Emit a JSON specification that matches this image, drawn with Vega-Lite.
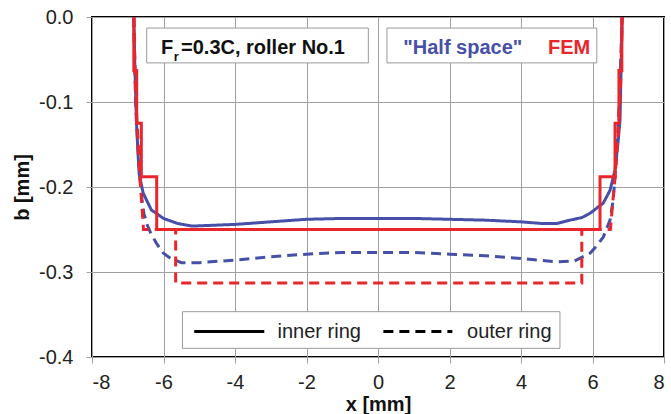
{
  "$schema": "https://vega.github.io/schema/vega-lite/v6.json",
  "width": 572,
  "height": 340,
  "autosize": {"type": "none"},
  "padding": {"left": 92, "top": 17, "right": 7, "bottom": 57},
  "background": "white",
  "config": {
    "view": {"stroke": "black", "strokeWidth": 2},
    "font": "Liberation Sans",
    "axis": {
      "domain": false,
      "grid": true,
      "gridColor": "#a0a0a0",
      "gridWidth": 1,
      "tickColor": "#a0a0a0",
      "tickSize": 6,
      "labelFont": "Liberation Sans",
      "labelFontSize": 20,
      "labelColor": "#222222",
      "titleFont": "Liberation Sans",
      "titleFontSize": 20,
      "titleFontWeight": "bold",
      "titleColor": "#111111"
    }
  },
  "datasets": {
    "curves": [
      {"model": "Half space", "ring": "inner ring", "i": 1, "x": -6.83, "b": 0},
      {"model": "Half space", "ring": "inner ring", "i": 2, "x": -6.8, "b": -0.06},
      {"model": "Half space", "ring": "inner ring", "i": 3, "x": -6.76, "b": -0.12},
      {"model": "Half space", "ring": "inner ring", "i": 4, "x": -6.72, "b": -0.155},
      {"model": "Half space", "ring": "inner ring", "i": 5, "x": -6.68, "b": -0.185},
      {"model": "Half space", "ring": "inner ring", "i": 6, "x": -6.57, "b": -0.207},
      {"model": "Half space", "ring": "inner ring", "i": 7, "x": -6.34, "b": -0.227},
      {"model": "Half space", "ring": "inner ring", "i": 8, "x": -6.0, "b": -0.237},
      {"model": "Half space", "ring": "inner ring", "i": 9, "x": -5.6, "b": -0.243},
      {"model": "Half space", "ring": "inner ring", "i": 10, "x": -5.2, "b": -0.246},
      {"model": "Half space", "ring": "inner ring", "i": 11, "x": -4.6, "b": -0.245},
      {"model": "Half space", "ring": "inner ring", "i": 12, "x": -4.0, "b": -0.244},
      {"model": "Half space", "ring": "inner ring", "i": 13, "x": -3.0, "b": -0.241},
      {"model": "Half space", "ring": "inner ring", "i": 14, "x": -2.0, "b": -0.238},
      {"model": "Half space", "ring": "inner ring", "i": 15, "x": -1.0, "b": -0.237},
      {"model": "Half space", "ring": "inner ring", "i": 16, "x": 0, "b": -0.237},
      {"model": "Half space", "ring": "inner ring", "i": 17, "x": 1.0, "b": -0.237},
      {"model": "Half space", "ring": "inner ring", "i": 18, "x": 2.0, "b": -0.238},
      {"model": "Half space", "ring": "inner ring", "i": 19, "x": 3.0, "b": -0.239},
      {"model": "Half space", "ring": "inner ring", "i": 20, "x": 4.0, "b": -0.241},
      {"model": "Half space", "ring": "inner ring", "i": 21, "x": 4.6, "b": -0.243},
      {"model": "Half space", "ring": "inner ring", "i": 22, "x": 5.0, "b": -0.243},
      {"model": "Half space", "ring": "inner ring", "i": 23, "x": 5.37, "b": -0.239},
      {"model": "Half space", "ring": "inner ring", "i": 24, "x": 5.7, "b": -0.236},
      {"model": "Half space", "ring": "inner ring", "i": 25, "x": 5.93, "b": -0.231},
      {"model": "Half space", "ring": "inner ring", "i": 26, "x": 6.3, "b": -0.219},
      {"model": "Half space", "ring": "inner ring", "i": 27, "x": 6.49, "b": -0.204},
      {"model": "Half space", "ring": "inner ring", "i": 28, "x": 6.63, "b": -0.18},
      {"model": "Half space", "ring": "inner ring", "i": 29, "x": 6.72, "b": -0.145},
      {"model": "Half space", "ring": "inner ring", "i": 30, "x": 6.77, "b": -0.121},
      {"model": "Half space", "ring": "inner ring", "i": 31, "x": 6.8, "b": -0.06},
      {"model": "Half space", "ring": "inner ring", "i": 32, "x": 6.83, "b": 0},

      {"model": "Half space", "ring": "outer ring", "i": 1, "x": -6.83, "b": 0},
      {"model": "Half space", "ring": "outer ring", "i": 2, "x": -6.78, "b": -0.1},
      {"model": "Half space", "ring": "outer ring", "i": 3, "x": -6.72, "b": -0.15},
      {"model": "Half space", "ring": "outer ring", "i": 4, "x": -6.66, "b": -0.19},
      {"model": "Half space", "ring": "outer ring", "i": 5, "x": -6.6, "b": -0.215},
      {"model": "Half space", "ring": "outer ring", "i": 6, "x": -6.55, "b": -0.231},
      {"model": "Half space", "ring": "outer ring", "i": 7, "x": -6.45, "b": -0.245},
      {"model": "Half space", "ring": "outer ring", "i": 8, "x": -6.36, "b": -0.254},
      {"model": "Half space", "ring": "outer ring", "i": 9, "x": -6.2, "b": -0.266},
      {"model": "Half space", "ring": "outer ring", "i": 10, "x": -6.0, "b": -0.278},
      {"model": "Half space", "ring": "outer ring", "i": 11, "x": -5.8, "b": -0.284},
      {"model": "Half space", "ring": "outer ring", "i": 12, "x": -5.5, "b": -0.289},
      {"model": "Half space", "ring": "outer ring", "i": 13, "x": -5.0, "b": -0.289},
      {"model": "Half space", "ring": "outer ring", "i": 14, "x": -4.0, "b": -0.286},
      {"model": "Half space", "ring": "outer ring", "i": 15, "x": -3.0, "b": -0.282},
      {"model": "Half space", "ring": "outer ring", "i": 16, "x": -2.0, "b": -0.279},
      {"model": "Half space", "ring": "outer ring", "i": 17, "x": -1.0, "b": -0.277},
      {"model": "Half space", "ring": "outer ring", "i": 18, "x": 0, "b": -0.277},
      {"model": "Half space", "ring": "outer ring", "i": 19, "x": 1.0, "b": -0.277},
      {"model": "Half space", "ring": "outer ring", "i": 20, "x": 2.0, "b": -0.279},
      {"model": "Half space", "ring": "outer ring", "i": 21, "x": 3.0, "b": -0.281},
      {"model": "Half space", "ring": "outer ring", "i": 22, "x": 4.0, "b": -0.284},
      {"model": "Half space", "ring": "outer ring", "i": 23, "x": 5.0, "b": -0.288},
      {"model": "Half space", "ring": "outer ring", "i": 24, "x": 5.5, "b": -0.287},
      {"model": "Half space", "ring": "outer ring", "i": 25, "x": 5.93, "b": -0.278},
      {"model": "Half space", "ring": "outer ring", "i": 26, "x": 6.1, "b": -0.27},
      {"model": "Half space", "ring": "outer ring", "i": 27, "x": 6.3, "b": -0.259},
      {"model": "Half space", "ring": "outer ring", "i": 28, "x": 6.49, "b": -0.239},
      {"model": "Half space", "ring": "outer ring", "i": 29, "x": 6.58, "b": -0.215},
      {"model": "Half space", "ring": "outer ring", "i": 30, "x": 6.68, "b": -0.16},
      {"model": "Half space", "ring": "outer ring", "i": 31, "x": 6.75, "b": -0.1},
      {"model": "Half space", "ring": "outer ring", "i": 32, "x": 6.83, "b": 0},

      {"model": "FEM", "ring": "inner ring", "i": 1, "x": -6.83, "b": 0},
      {"model": "FEM", "ring": "inner ring", "i": 2, "x": -6.83, "b": -0.063},
      {"model": "FEM", "ring": "inner ring", "i": 3, "x": -6.75, "b": -0.063},
      {"model": "FEM", "ring": "inner ring", "i": 4, "x": -6.75, "b": -0.125},
      {"model": "FEM", "ring": "inner ring", "i": 5, "x": -6.62, "b": -0.125},
      {"model": "FEM", "ring": "inner ring", "i": 6, "x": -6.62, "b": -0.188},
      {"model": "FEM", "ring": "inner ring", "i": 7, "x": -6.19, "b": -0.188},
      {"model": "FEM", "ring": "inner ring", "i": 8, "x": -6.19, "b": -0.25},
      {"model": "FEM", "ring": "inner ring", "i": 9, "x": 6.21, "b": -0.25},
      {"model": "FEM", "ring": "inner ring", "i": 10, "x": 6.21, "b": -0.188},
      {"model": "FEM", "ring": "inner ring", "i": 11, "x": 6.63, "b": -0.188},
      {"model": "FEM", "ring": "inner ring", "i": 12, "x": 6.63, "b": -0.125},
      {"model": "FEM", "ring": "inner ring", "i": 13, "x": 6.74, "b": -0.125},
      {"model": "FEM", "ring": "inner ring", "i": 14, "x": 6.74, "b": -0.063},
      {"model": "FEM", "ring": "inner ring", "i": 15, "x": 6.82, "b": -0.063},
      {"model": "FEM", "ring": "inner ring", "i": 16, "x": 6.82, "b": 0},

      {"model": "FEM", "ring": "outer ring", "i": 1, "x": -6.83, "b": 0},
      {"model": "FEM", "ring": "outer ring", "i": 2, "x": -6.8, "b": -0.063},
      {"model": "FEM", "ring": "outer ring", "i": 3, "x": -6.74, "b": -0.125},
      {"model": "FEM", "ring": "outer ring", "i": 4, "x": -6.66, "b": -0.188},
      {"model": "FEM", "ring": "outer ring", "i": 5, "x": -6.56, "b": -0.25},
      {"model": "FEM", "ring": "outer ring", "i": 6, "x": -5.66, "b": -0.25},
      {"model": "FEM", "ring": "outer ring", "i": 7, "x": -5.66, "b": -0.313},
      {"model": "FEM", "ring": "outer ring", "i": 8, "x": 5.7, "b": -0.313},
      {"model": "FEM", "ring": "outer ring", "i": 9, "x": 5.7, "b": -0.25},
      {"model": "FEM", "ring": "outer ring", "i": 10, "x": 6.5, "b": -0.25},
      {"model": "FEM", "ring": "outer ring", "i": 11, "x": 6.63, "b": -0.188},
      {"model": "FEM", "ring": "outer ring", "i": 12, "x": 6.74, "b": -0.125},
      {"model": "FEM", "ring": "outer ring", "i": 13, "x": 6.8, "b": -0.063},
      {"model": "FEM", "ring": "outer ring", "i": 14, "x": 6.83, "b": 0}
    ]
  },
  "encoding": {
    "x": {
      "field": "x",
      "type": "quantitative",
      "scale": {"domain": [-8, 8], "nice": false, "zero": false},
      "axis": {
        "values": [-8, -6, -4, -2, 0, 2, 4, 6, 8],
        "title": "x [mm]",
        "labelPadding": 9,
        "titleY": 47,
        "titleBaseline": "middle",
        "labelExpr": "datum.value < 0 ? '-' + abs(datum.value) : '' + datum.value"
      }
    },
    "y": {
      "field": "b",
      "type": "quantitative",
      "scale": {"domain": [-0.4, 0], "nice": false, "zero": false},
      "axis": {
        "values": [-0.4, -0.3, -0.2, -0.1, 0],
        "title": "b [mm]",
        "labelPadding": 13,
        "titleX": -70,
        "titleBaseline": "middle",
        "labelExpr": "datum.value == 0 ? '0.0' : '-' + format(abs(datum.value), '.1f')"
      }
    }
  },
  "layer": [
    {
      "data": {"name": "curves"},
      "transform": [{"filter": "datum.model == 'Half space'"}],
      "mark": {"type": "line", "color": "#4650a8", "strokeWidth": 3, "clip": true},
      "encoding": {
        "order": {"field": "i", "type": "quantitative"},
        "strokeDash": {
          "field": "ring",
          "type": "nominal",
          "scale": {"domain": ["inner ring", "outer ring"], "range": [[1, 0], [10, 6]]},
          "legend": null
        }
      }
    },
    {
      "data": {"name": "curves"},
      "transform": [{"filter": "datum.model == 'FEM'"}],
      "mark": {"type": "line", "color": "#e8262b", "strokeWidth": 3, "clip": true},
      "encoding": {
        "order": {"field": "i", "type": "quantitative"},
        "strokeDash": {"field": "ring", "type": "nominal", "legend": null}
      }
    },
    {
      "data": {"values": [
        {"x": -6.47, "xe": -0.27, "b": -0.013, "be": -0.054},
        {"x": 0.25, "xe": 6.12, "b": -0.013, "be": -0.054},
        {"x": -5.47, "xe": 5.09, "b": -0.3467, "be": -0.3898}
      ]},
      "mark": {"type": "rect", "fill": "white", "stroke": "#9a9a9a", "strokeWidth": 1},
      "encoding": {
        "x2": {"field": "xe"},
        "y2": {"field": "be"}
      }
    },
    {
      "data": {"values": [
        {"x": -5.14, "xe": -3.18, "b": -0.37, "ring": "inner ring"},
        {"x": 0.15, "xe": 2.08, "b": -0.37, "ring": "outer ring"}
      ]},
      "mark": {"type": "rule", "color": "black", "strokeWidth": 3},
      "encoding": {
        "x2": {"field": "xe"},
        "strokeDash": {"field": "ring", "type": "nominal", "legend": null}
      }
    },
    {
      "data": {"values": [
        {"x": -6.07, "b": -0.0368, "text": "F"},
        {"x": -5.51, "b": -0.0368, "text": "=0.3C, roller No.1"}
      ]},
      "mark": {"type": "text", "align": "left", "baseline": "middle", "font": "Liberation Sans", "fontWeight": "bold", "fontSize": 20, "color": "#111111"},
      "encoding": {"text": {"field": "text"}}
    },
    {
      "data": {"values": [{"x": -5.71, "b": -0.047, "text": "r"}]},
      "mark": {"type": "text", "align": "left", "baseline": "middle", "font": "Liberation Sans", "fontWeight": "bold", "fontSize": 13, "color": "#111111"},
      "encoding": {"text": {"field": "text"}}
    },
    {
      "data": {"values": [{"x": 0.707, "b": -0.0368, "text": "\"Half space\""}]},
      "mark": {"type": "text", "align": "left", "baseline": "middle", "font": "Liberation Sans", "fontWeight": "bold", "fontSize": 20, "color": "#4650a8"},
      "encoding": {"text": {"field": "text"}}
    },
    {
      "data": {"values": [{"x": 4.757, "b": -0.0368, "text": "FEM"}]},
      "mark": {"type": "text", "align": "left", "baseline": "middle", "font": "Liberation Sans", "fontWeight": "bold", "fontSize": 20, "color": "#e8262b"},
      "encoding": {"text": {"field": "text"}}
    },
    {
      "data": {"values": [
        {"x": -2.81, "b": -0.37, "text": "inner ring"},
        {"x": 2.49, "b": -0.37, "text": "outer ring"}
      ]},
      "mark": {"type": "text", "align": "left", "baseline": "middle", "font": "Liberation Sans", "fontSize": 20, "color": "#222222"},
      "encoding": {"text": {"field": "text"}}
    }
  ]
}
